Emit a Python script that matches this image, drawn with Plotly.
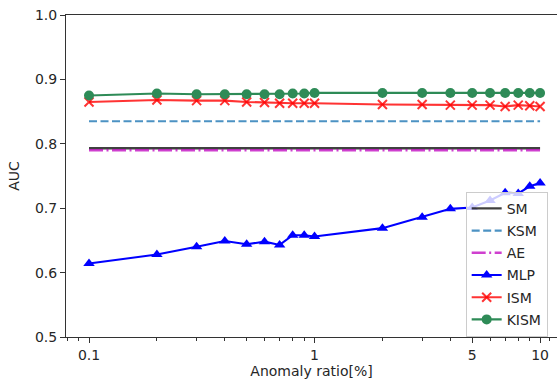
import plotly.graph_objects as go

# ---- data ----
ratios = [0.1, 0.2, 0.3, 0.4, 0.5, 0.6, 0.7, 0.8, 0.9, 1, 2, 3, 4, 5, 6, 7, 8, 9, 10]
sm_auc = 0.793
ksm_auc = 0.835
ae_auc = 0.790
mlp_auc = [0.614, 0.628, 0.640, 0.649, 0.644, 0.648, 0.643, 0.658, 0.658, 0.656,
           0.669, 0.686, 0.699, 0.701, 0.712, 0.724, 0.723, 0.734, 0.739]
ism_auc = [0.865, 0.868, 0.867, 0.867, 0.865, 0.864, 0.863, 0.863, 0.863, 0.863,
           0.861, 0.861, 0.860, 0.860, 0.860, 0.858, 0.860, 0.859, 0.858]
kism_auc = [0.875, 0.878, 0.877, 0.877, 0.877, 0.877, 0.877, 0.878, 0.878, 0.879,
            0.879, 0.879, 0.879, 0.879, 0.879, 0.879, 0.879, 0.879, 0.879]

x_major = [0.1, 1, 5, 10]
x_major_text = ["0.1", "1", "5", "10"]
x_minor = [0.08, 0.09, 0.2, 0.3, 0.4, 0.5, 0.6, 0.7, 0.8, 0.9, 2, 3, 4, 6, 7, 8, 9, 11]
y_ticks = [0.5, 0.6, 0.7, 0.8, 0.9, 1.0]

FONT = "DejaVu Sans"
TXT = "#262626"
FS = 14

fig = go.Figure()
n = len(ratios)

fig.add_trace(go.Scatter(x=ratios, y=[sm_auc] * n, mode="lines", name="SM",
                         line=dict(color="rgba(0,0,0,0.75)", width=2.4),
                         legendgroup="a"))
fig.add_trace(go.Scatter(x=ratios, y=[ksm_auc] * n, mode="lines", name="KSM",
                         line=dict(color="rgba(31,119,180,0.8)", width=2.1, dash="8px,3.5px"),
                         legendgroup="b"))
fig.add_trace(go.Scatter(x=ratios, y=[ae_auc] * n, mode="lines", name="AE",
                         line=dict(color="rgba(191,0,191,0.75)", width=2.6,
                                   dash="14px,3.5px,2px,3.5px"),
                         legendgroup="c"))
fig.add_trace(go.Scatter(x=ratios, y=mlp_auc, mode="lines+markers", name="MLP",
                         line=dict(color="#0000ff", width=2.1),
                         marker=dict(symbol="triangle-up", size=10, color="#0000ff"),
                         legendgroup="d"))
fig.add_trace(go.Scatter(x=ratios, y=ism_auc, mode="lines+markers", name="ISM",
                         line=dict(color="rgba(255,0,0,0.8)", width=2.1),
                         marker=dict(symbol="x-thin", size=9,
                                     line=dict(color="rgba(255,0,0,0.8)", width=2)),
                         legendgroup="e"))
fig.add_trace(go.Scatter(x=ratios, y=kism_auc, mode="lines+markers", name="KISM",
                         line=dict(color="#2e8b57", width=2.1),
                         marker=dict(symbol="circle", size=10, color="#2e8b57"),
                         legendgroup="f"))

fig.update_layout(
    width=557, height=385,
    margin=dict(l=66, r=0, t=15, b=48),
    paper_bgcolor="white", plot_bgcolor="white",
    font=dict(family=FONT, size=FS, color=TXT),
    showlegend=True,
    legend=dict(
        x=0.814, y=0.451, xanchor="left", yanchor="top",
        bgcolor="rgba(255,255,255,0.8)", bordercolor="#cccccc", borderwidth=1,
        font=dict(family=FONT, size=FS, color=TXT),
        traceorder="grouped", tracegroupgap=1,
    ),
    xaxis=dict(
        type="log", range=[-1.102, 1.075],
        tickvals=x_major, ticktext=x_major_text,
        ticks="outside", ticklen=5, tickwidth=1, tickcolor="#333",
        showline=True, linecolor="#333", linewidth=1, mirror=True,
        showgrid=False, zeroline=False,
        minor=dict(tickvals=x_minor, ticks="outside", ticklen=3, tickcolor="#333", showgrid=False),
        title=dict(text="Anomaly ratio[%]", font=dict(size=FS, color=TXT), standoff=4),
        tickfont=dict(size=FS, color=TXT),
    ),
    yaxis=dict(
        range=[0.5, 1.0], tickvals=y_ticks, tickformat=".1f",
        ticks="outside", ticklen=5, tickwidth=1, tickcolor="#333",
        showline=True, linecolor="#333", linewidth=1, mirror=False,
        showgrid=False, zeroline=False,
        title=dict(text="AUC", font=dict(size=FS, color=TXT), standoff=12),
        tickfont=dict(size=FS, color=TXT),
    ),
)

fig.write_html("out.html")
